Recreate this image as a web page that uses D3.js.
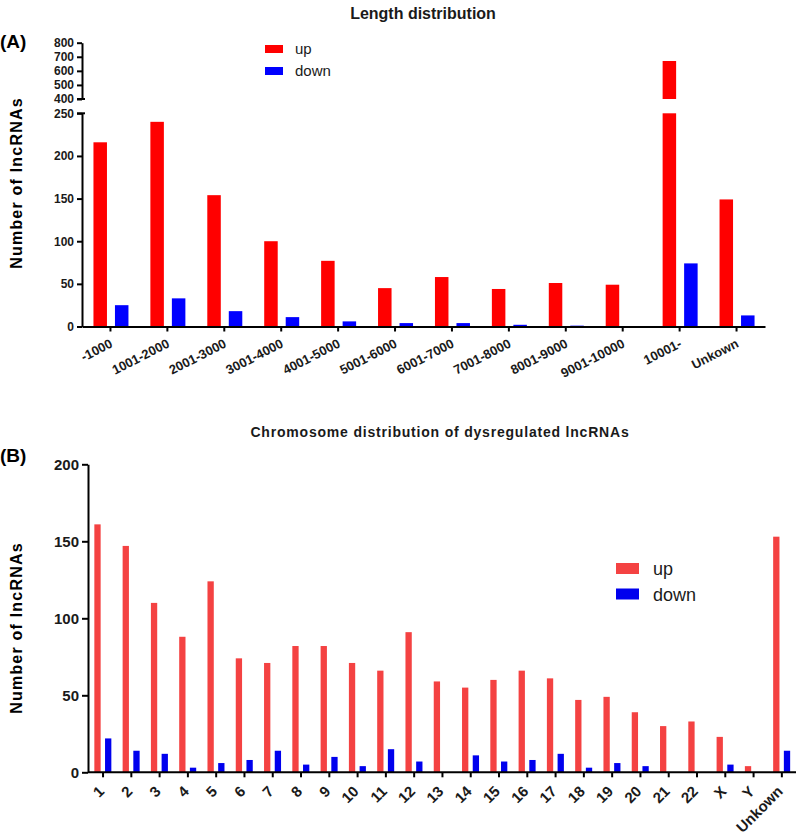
<!DOCTYPE html>
<html>
<head>
<meta charset="utf-8">
<script src="https://cdn.jsdelivr.net/npm/d3@7"></script>
<style>
  body { margin: 0; background: #fff; }
  svg { display: block; font-family: "Liberation Sans", Arial, sans-serif; }
</style>
</head>
<body>
<svg id="chart" width="800" height="840"></svg>
<script>
// ---------- Data ----------
const lenCategories = ["-1000","1001-2000","2001-3000","3001-4000","4001-5000","5001-6000","6001-7000","7001-8000","8001-9000","9001-10000","10001-","Unkown"];
const lenUp   = [216, 240, 154, 100, 77, 45, 58, 44, 51, 49, 670, 149];
const lenDown = [25, 33, 18, 11, 6, 4, 4, 2, 1, 0, 74, 13];
const lenLowTicks  = [0, 50, 100, 150, 200, 250];
const lenHighTicks = [400, 500, 600, 700, 800];

const chrCategories = ["1","2","3","4","5","6","7","8","9","10","11","12","13","14","15","16","17","18","19","20","21","22","X","Y","Unkown"];
const chrUp   = [161, 147, 110, 88, 124, 74, 71, 82, 82, 71, 66, 91, 59, 55, 60, 66, 61, 47, 49, 39, 30, 33, 23, 4, 153];
const chrDown = [22, 14, 12, 3, 6, 8, 14, 5, 10, 4, 15, 7, 0, 11, 7, 8, 12, 3, 6, 4, 0, 0, 5, 0, 14];
const chrTicks = [0, 50, 100, 150, 200];

const seriesNames = ["up", "down"];

// ---------- Setup ----------
const svg = d3.select("#chart");
const txt = "#1a1a1a";

// ================= Panel A =================
(function () {
  const x0 = 82, x1 = 765;
  const x = d3.scaleBand().domain(lenCategories).range([x0, x1]).paddingInner(0).paddingOuter(0);
  const xs = d3.scaleBand().domain(seriesNames).range([-17, 18]).paddingInner(0.372);
  const yLow = d3.scaleLinear().domain([0, 250]).range([326.5, 113.3]);
  const yHigh = d3.scaleLinear().domain([400, 800]).range([99, 42.7]);
  const colors = { up: "#ff0000", down: "#0000ff" };

  const g = svg.append("g");

  // bars
  lenCategories.forEach((c, i) => {
    const cx = x(c) + x.bandwidth() / 2;
    const vals = { up: lenUp[i], down: lenDown[i] };
    seriesNames.forEach(s => {
      const v = vals[s];
      if (v <= 0) return;
      const bx = cx + xs(s);
      const lowTop = yLow(Math.min(v, 250));
      g.append("rect").attr("x", bx).attr("width", xs.bandwidth())
        .attr("y", lowTop).attr("height", yLow(0) - lowTop).attr("fill", colors[s]);
      if (v > 400) {
        g.append("rect").attr("x", bx).attr("width", xs.bandwidth())
          .attr("y", yHigh(v)).attr("height", yHigh(400) - yHigh(v)).attr("fill", colors[s]);
      }
    });
  });

  // y axes
  const axLow = g.append("g").attr("transform", `translate(${x0},0)`)
    .call(d3.axisLeft(yLow).tickValues(lenLowTicks).tickSize(5).tickSizeOuter(0).tickPadding(3));
  const axHigh = g.append("g").attr("transform", `translate(${x0},0)`)
    .call(d3.axisLeft(yHigh).tickValues(lenHighTicks).tickSize(5).tickSizeOuter(0).tickPadding(3));
  [axLow, axHigh].forEach(a => {
    a.select(".domain").attr("stroke", "#000").attr("stroke-width", 2);
    a.selectAll(".tick line").attr("stroke", "#000").attr("stroke-width", 2);
    a.selectAll(".tick text").attr("font-size", 12).attr("font-weight", "bold").attr("fill", txt);
  });
  // break caps
  g.append("line").attr("x1", x0 - 5).attr("x2", x0 + 3).attr("y1", yLow(250)).attr("y2", yLow(250)).attr("stroke", "#000").attr("stroke-width", 2);
  g.append("line").attr("x1", x0 - 5).attr("x2", x0 + 3).attr("y1", yHigh(400)).attr("y2", yHigh(400)).attr("stroke", "#000").attr("stroke-width", 2);

  // x axis
  const ax = g.append("g").attr("transform", `translate(0,${yLow(0)})`)
    .call(d3.axisBottom(x).tickSize(5).tickSizeOuter(0));
  ax.select(".domain").attr("stroke", "#000").attr("stroke-width", 2);
  ax.selectAll(".tick line").attr("stroke", "#000").attr("stroke-width", 2);
  ax.selectAll(".tick text")
    .attr("font-size", 13).attr("font-weight", "bold").attr("fill", txt)
    .attr("text-anchor", "end").attr("dy", 0).attr("y", 0)
    .attr("transform", "translate(3,20) rotate(-27)");

  // titles
  svg.append("text").attr("x", 423).attr("y", 19).attr("text-anchor", "middle")
    .attr("font-size", 16).attr("font-weight", "bold").attr("fill", txt).text("Length distribution");
  svg.append("text").attr("x", 0).attr("y", 48)
    .attr("font-size", 19).attr("font-weight", "bold").attr("fill", "#000").text("(A)");
  svg.append("text").attr("transform", "translate(22,183) rotate(-90)").attr("text-anchor", "middle")
    .attr("font-size", 16).attr("font-weight", "bold").attr("letter-spacing", 1.2).attr("fill", "#000")
    .text("Number of lncRNAs");

  // legend
  const leg = svg.append("g");
  seriesNames.forEach((s, i) => {
    leg.append("rect").attr("x", 265).attr("y", 45 + i * 22).attr("width", 18).attr("height", 8).attr("fill", colors[s]);
    leg.append("text").attr("x", 295).attr("y", 54 + i * 22).attr("font-size", 15).attr("fill", txt).text(s);
  });
})();

// ================= Panel B =================
(function () {
  const x0 = 88, x1 = 796;
  const x = d3.scaleBand().domain(chrCategories).range([x0 + 0.9, x1]).paddingInner(0).paddingOuter(0);
  const xs = d3.scaleBand().domain(seriesNames).range([-8.7, 8.3]).paddingInner(0.411);
  const y = d3.scaleLinear().domain([0, 200]).range([772.3, 464.3]);
  const colors = { up: "#f44242", down: "#0000ee" };

  const g = svg.append("g");

  chrCategories.forEach((c, i) => {
    const cx = x(c) + x.bandwidth() / 2;
    const vals = { up: chrUp[i], down: chrDown[i] };
    seriesNames.forEach(s => {
      const v = vals[s];
      if (v <= 0) return;
      g.append("rect").attr("x", cx + xs(s)).attr("width", xs.bandwidth())
        .attr("y", y(v)).attr("height", y(0) - y(v)).attr("fill", colors[s]);
    });
  });

  const ay = g.append("g").attr("transform", `translate(${x0},0)`)
    .call(d3.axisLeft(y).tickValues(chrTicks).tickSize(6).tickSizeOuter(0).tickPadding(3));
  ay.select(".domain").attr("stroke", "#000").attr("stroke-width", 2);
  ay.selectAll(".tick line").attr("stroke", "#000").attr("stroke-width", 2);
  ay.selectAll(".tick text").attr("font-size", 15).attr("font-weight", "bold").attr("fill", txt);

  const ax = g.append("g").attr("transform", `translate(0,${y(0)})`)
    .call(d3.axisBottom(x).tickSize(5).tickSizeOuter(0));
  ax.select(".domain").attr("stroke", "#000").attr("stroke-width", 2).attr("d", `M${x0},0H${x1}`);
  ax.selectAll(".tick line").attr("stroke", "#000").attr("stroke-width", 2);
  ax.selectAll(".tick text")
    .attr("font-size", 15).attr("font-weight", "bold").attr("fill", txt)
    .attr("text-anchor", "end").attr("dy", 0).attr("y", 0)
    .attr("transform", "translate(2,20) rotate(-45)");

  svg.append("text").attr("x", 440).attr("y", 437).attr("text-anchor", "middle")
    .attr("font-size", 14).attr("font-weight", "bold").attr("letter-spacing", 0.8).attr("fill", txt)
    .text("Chromosome distribution of dysregulated lncRNAs");
  svg.append("text").attr("x", 0).attr("y", 462)
    .attr("font-size", 19).attr("font-weight", "bold").attr("fill", "#000").text("(B)");
  svg.append("text").attr("transform", "translate(22,628) rotate(-90)").attr("text-anchor", "middle")
    .attr("font-size", 16).attr("font-weight", "bold").attr("letter-spacing", 1.2).attr("fill", "#000")
    .text("Number of lncRNAs");

  const leg = svg.append("g");
  seriesNames.forEach((s, i) => {
    leg.append("rect").attr("x", 616).attr("y", 563 + i * 25.5).attr("width", 23).attr("height", 11).attr("fill", colors[s]);
    leg.append("text").attr("x", 653).attr("y", 575 + i * 25.5).attr("font-size", 18).attr("fill", txt).text(s);
  });
})();
</script>
</body>
</html>
